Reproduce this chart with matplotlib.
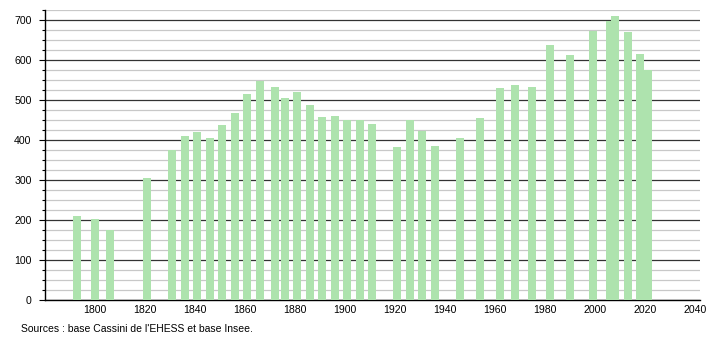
import matplotlib
matplotlib.use("Agg")
import matplotlib.pyplot as plt
from matplotlib.ticker import MultipleLocator

years = [1793, 1800, 1806, 1821, 1831, 1836, 1841, 1846, 1851, 1856, 1861, 1866,
         1872, 1876, 1881, 1886, 1891, 1896, 1901, 1906, 1911, 1921, 1926, 1931,
         1936, 1946, 1954, 1962, 1968, 1975, 1982, 1990, 1999, 2006, 2008, 2013,
         2018, 2021]
population = [210, 202, 174, 304, 375, 410, 420, 405, 437, 468, 515, 548,
              532, 505, 520, 487, 457, 460, 449, 449, 440, 382, 449, 423,
              385, 405, 455, 530, 537, 532, 637, 612, 673, 698, 710, 670,
              615, 575]
xticks = [1800, 1820, 1840, 1860, 1880, 1900, 1920, 1940, 1960, 1980, 2000, 2020, 2040]
yticks = [0, 100, 200, 300, 400, 500, 600, 700]
source = "Sources : base Cassini de l'EHESS et base Insee."

plt.rcParams['font.family'] = ['Liberation Sans', 'DejaVu Sans']

fig = plt.figure(figsize=(7.1, 3.4), dpi=100)
ax = fig.add_axes([0.063, 0.1176, 0.923, 0.853])

ax.bar(years, population, width=3.2, color='#aee3ae', zorder=3, linewidth=0)

ax.set_xlim(1780, 2042)
ax.set_ylim(0, 725)
ax.set_xticks(xticks)
ax.set_yticks(yticks)
ax.yaxis.set_minor_locator(MultipleLocator(25))

ax.grid(axis='y', which='major', color='#333333', linewidth=0.9, zorder=1)
ax.grid(axis='y', which='minor', color='#c8c8c8', linewidth=0.9, zorder=1)
ax.grid(axis='x', visible=False)

for s in ['top', 'right']:
    ax.spines[s].set_visible(False)
for s in ['left', 'bottom']:
    ax.spines[s].set_color('black')
    ax.spines[s].set_linewidth(1.0)

ax.tick_params(axis='y', which='major', length=4, width=0.8, pad=5.5, labelsize=7.6, colors='black')
ax.tick_params(axis='y', which='minor', length=2, width=0.8)
ax.tick_params(axis='x', which='both', length=0, pad=3.5, labelsize=7.6)

fig.text(20.7 / 710, 1 - 329 / 340, source, fontsize=7.5, va='center', ha='left')

fig.savefig('out.png', dpi=100)
